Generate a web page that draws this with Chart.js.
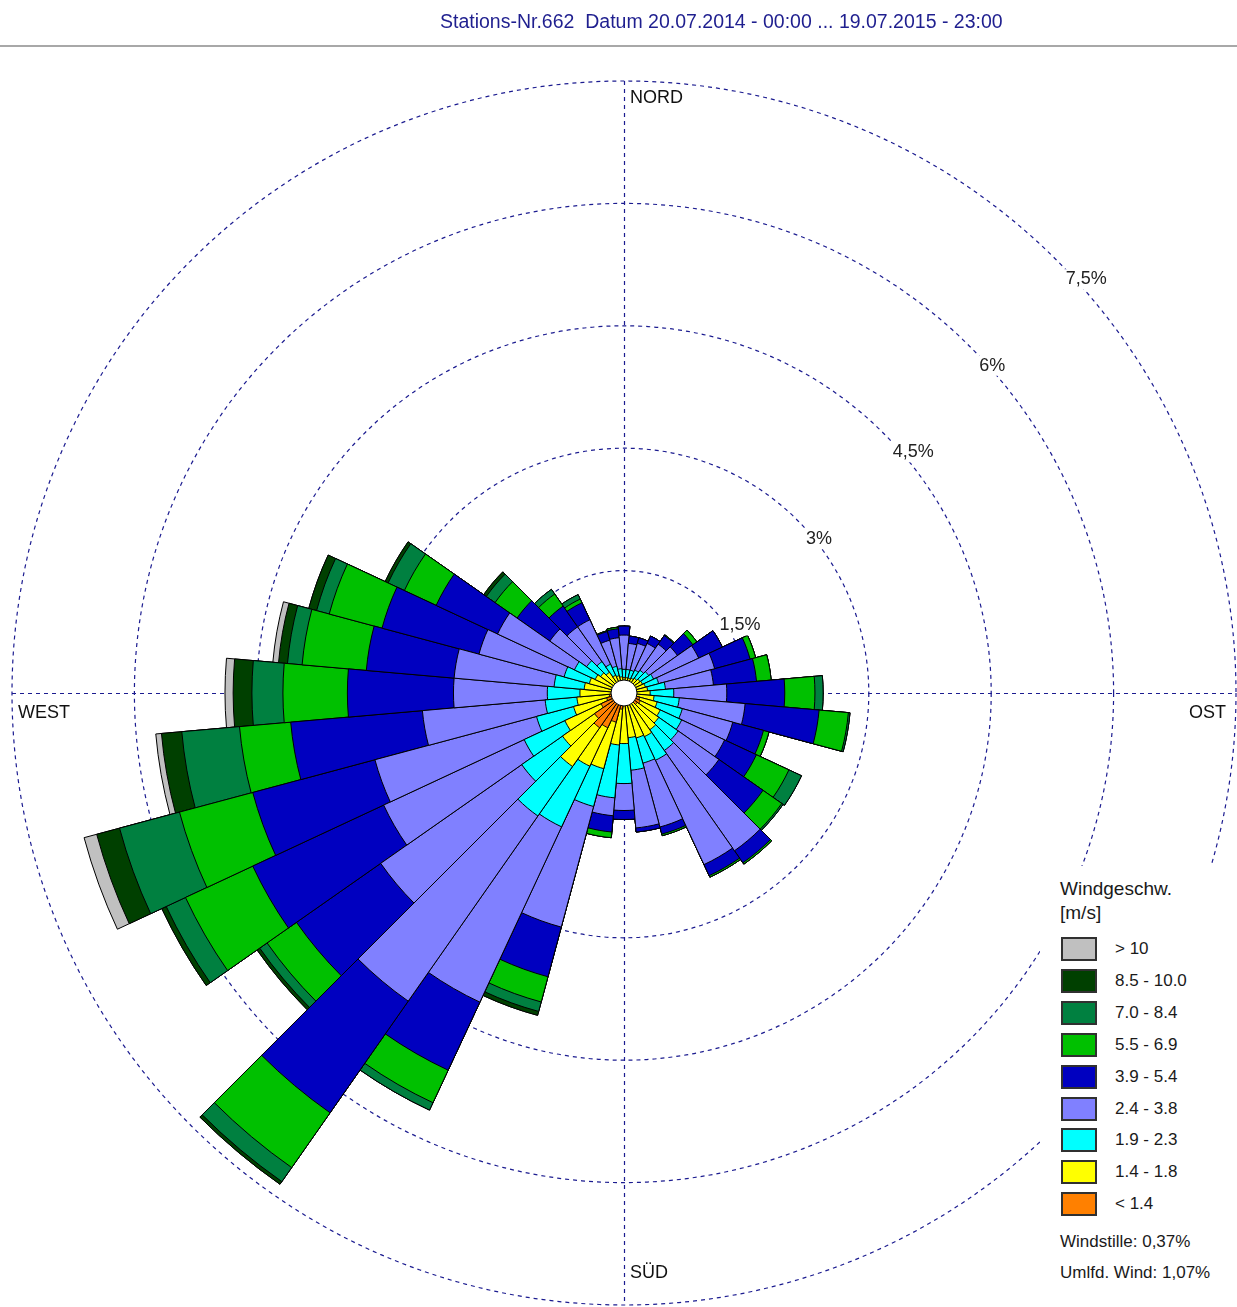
<!DOCTYPE html>
<html>
<head>
<meta charset="utf-8">
<script src="https://cdn.jsdelivr.net/npm/chart.js@4.4.0/dist/chart.umd.min.js"></script>
<style>
  html, body { margin: 0; padding: 0; background: #fff; }
  body { width: 1237px; height: 1307px; position: relative; overflow: hidden; font-family: "Liberation Sans", Arial, sans-serif; }
  #wrap { position: absolute; left: 0; top: 0; width: 1237px; height: 1307px; }
  #title { position: absolute; left: 440px; top: 9px; font-size: 19.5px; line-height: 24px; color: #1f1f8f; white-space: nowrap; }
  #rule { position: absolute; left: 0; top: 45px; width: 1237px; border-top: 2px solid #a8a8a8; }
  #legend { position: absolute; left: 1040px; top: 866px; width: 197px; height: 441px; background: #fff; color: #1a1a1a; }
  #legend div { position: absolute; white-space: nowrap; }
  .head { left: 20px; font-size: 19px; line-height: 22px; }
  .box { left: 21px; width: 36px; height: 24px; box-sizing: border-box; border: 2px solid #303030; }
  .lab { left: 75px; font-size: 17px; line-height: 24px; }
  .note { left: 20px; font-size: 17px; line-height: 20px; }
</style>
</head>
<body>
<div id="wrap"><canvas id="rose"></canvas></div>
<div id="title">Stations-Nr.662&nbsp;&nbsp;Datum 20.07.2014 - 00:00 ... 19.07.2015 - 23:00</div>
<div id="rule"></div>
<div id="legend"></div>
<script>
// sector centres, degrees clockwise from north
const directions = ['0', '10', '20', '30', '40', '50', '60', '70', '80', '90', '100', '110',
  '120', '130', '140', '150', '160', '170', '180', '190', '200', '210', '220', '230',
  '240', '250', '260', '270', '280', '290', '300', '310', '320', '330', '340', '350'];

// frequency in % per speed class
const spdLt14 = [0.07, 0.07, 0.07, 0.07, 0.09, 0.09, 0.10, 0.10, 0.11, 0.12, 0.14, 0.20,
  0.22, 0.20, 0.14, 0.12, 0.12, 0.12, 0.12, 0.20, 0.37, 0.47, 0.52, 0.44,
  0.31, 0.22, 0.18, 0.12, 0.11, 0.10, 0.10, 0.09, 0.09, 0.07, 0.07, 0.07];
const spd14 = [0.12, 0.12, 0.12, 0.13, 0.13, 0.15, 0.15, 0.17, 0.18, 0.20, 0.23, 0.22,
  0.27, 0.32, 0.41, 0.47, 0.45, 0.43, 0.50, 0.44, 0.59, 0.52, 0.58, 0.48,
  0.49, 0.42, 0.40, 0.42, 0.38, 0.34, 0.29, 0.26, 0.22, 0.17, 0.15, 0.13];
const spd19 = [0.10, 0.10, 0.10, 0.11, 0.12, 0.13, 0.15, 0.17, 0.22, 0.29, 0.31, 0.32,
  0.29, 0.29, 0.31, 0.32, 0.32, 0.40, 0.49, 0.65, 0.48, 0.82, 0.74, 0.61,
  0.55, 0.47, 0.39, 0.40, 0.37, 0.32, 0.28, 0.21, 0.16, 0.15, 0.12, 0.10];
const spd24 = [0.42, 0.32, 0.34, 0.36, 0.39, 0.43, 0.61, 0.71, 0.59, 0.65, 0.81, 0.64,
  0.58, 0.61, 1.50, 1.41, 0.81, 0.71, 0.33, 0.22, 1.53, 2.37, 2.77, 2.11,
  1.90, 2.05, 1.51, 1.15, 1.23, 1.08, 1.04, 0.55, 0.52, 0.60, 0.33, 0.38];
const spd39 = [0.11, 0.09, 0.07, 0.10, 0.13, 0.23, 0.32, 0.45, 0.53, 0.71, 0.91, 0.39,
  0.43, 0.66, 0.18, 0.15, 0.09, 0.05, 0.11, 0.20, 0.63, 0.92, 1.67, 1.26,
  1.77, 1.55, 1.62, 1.30, 1.08, 1.23, 0.83, 0.49, 0.31, 0.23, 0.11, 0.11];
const spd55 = [0, 0, 0, 0, 0.01, 0.06, 0, 0.07, 0.18, 0.37, 0.36, 0.07,
  0.44, 0.28, 0.02, 0.02, 0.02, 0, 0, 0.07, 0.32, 0.44, 0.82, 0.44,
  0.91, 0.93, 0.63, 0.79, 0.79, 0.67, 0.43, 0.33, 0.18, 0.05, 0.01, 0.02];
const spd70 = [0, 0, 0, 0, 0, 0, 0, 0, 0, 0.10, 0.02, 0,
  0.17, 0.02, 0, 0, 0, 0, 0, 0, 0.12, 0.10, 0.21, 0.11,
  0.26, 0.76, 0.71, 0.38, 0.18, 0.16, 0.22, 0.13, 0.07, 0.06, 0, 0];
const spd85 = [0, 0, 0, 0, 0, 0, 0, 0, 0, 0, 0, 0,
  0, 0, 0, 0, 0, 0, 0, 0, 0.05, 0, 0.04, 0.04,
  0.06, 0.29, 0.25, 0.23, 0.11, 0.10, 0.04, 0.04, 0, 0, 0, 0];
const spdGt10 = [0, 0, 0, 0, 0, 0, 0, 0, 0, 0, 0, 0,
  0, 0, 0, 0, 0, 0, 0, 0, 0, 0, 0, 0,
  0, 0.16, 0.07, 0.10, 0.07, 0, 0, 0, 0, 0, 0, 0];

// slowest class first
const classSeries = [spdLt14, spd14, spd19, spd24, spd39, spd55, spd70, spd85, spdGt10];
const classLabels = ['< 1.4', '1.4 - 1.8', '1.9 - 2.3', '2.4 - 3.8', '3.9 - 5.4', '5.5 - 6.9', '7.0 - 8.4', '8.5 - 10.0', '> 10'];
const classColors = ['#ff8000', '#ffff00', '#00ffff', '#8080ff', '#0000c0', '#00c000', '#008040', '#004000', '#c0c0c0'];

const ringTicks = [1.5, 3, 4.5, 6, 7.5];
const calmText = 'Windstille: 0,37%';
const varText = 'Umlfd. Wind: 1,07%';

const gridColor = '#1c1c90';
const font = '"Liberation Sans", Arial, sans-serif';

// stacked rose: each dataset holds the running total, smallest drawn on top
let running = directions.map(() => 0);
const datasets = classSeries.map((series, k) => {
    running = running.map((v, i) => v + series[i]);
    return {
        label: classLabels[k],
        data: running.slice(),
        backgroundColor: classColors[k],
        borderColor: '#000',
        borderWidth: 1,
        order: k,
    };
});

const roseExtras = {
    id: 'roseExtras',
    beforeDatasetsDraw(chart) {
        const s = chart.scales.r;
        const ctx = chart.ctx;
        const cx = s.xCenter, cy = s.yCenter, R = s.drawingArea;
        ctx.save();
        ctx.strokeStyle = gridColor;
        ctx.lineWidth = 1.2;
        ctx.setLineDash([4, 4]);
        ctx.beginPath();
        ctx.moveTo(cx + 0.5, cy - R);
        ctx.lineTo(cx + 0.5, cy + R);
        ctx.moveTo(cx - R, cy + 0.5);
        ctx.lineTo(cx + R, cy + 0.5);
        ctx.stroke();
        ctx.restore();
    },
    afterDatasetsDraw(chart) {
        const s = chart.scales.r;
        const ctx = chart.ctx;
        const cx = s.xCenter, cy = s.yCenter, R = s.drawingArea;
        ctx.save();
        // calm circle
        ctx.beginPath();
        ctx.arc(cx, cy, 13, 0, Math.PI * 2);
        ctx.fillStyle = '#fff';
        ctx.fill();
        ctx.strokeStyle = '#000';
        ctx.lineWidth = 1;
        ctx.stroke();

        // ring percentages along the NE diagonal
        ctx.font = '18px ' + font;
        ctx.textAlign = 'left';
        ctx.textBaseline = 'top';
        ringTicks.forEach(v => {
            const d = s.getDistanceFromCenterForValue(v) * Math.SQRT1_2;
            const txt = String(v).replace('.', ',') + '%';
            const x = cx + d + 9, y = cy - d + 10;
            const w = ctx.measureText(txt).width;
            ctx.fillStyle = '#fff';
            ctx.fillRect(x - 1, y - 1, w + 2, 20);
            ctx.fillStyle = '#222';
            ctx.fillText(txt, x, y);
        });

        // compass points
        ctx.textBaseline = 'middle';
        ctx.fillStyle = '#111';
        ctx.fillText('NORD', cx + 6, cy - R + 17);
        ctx.fillText('WEST', cx - R + 6, cy + 20);
        ctx.fillText('SÜD', cx + 6, cy + R - 32);
        ctx.textAlign = 'right';
        ctx.fillText('OST', cx + R - 10, cy + 20);
        ctx.restore();
    }
};

new Chart(document.getElementById('rose'), {
    type: 'polarArea',
    data: { labels: directions, datasets },
    options: {
        responsive: true,
        maintainAspectRatio: false,
        animation: false,
        events: [],
        layout: { padding: { left: 12, right: 1, top: 81, bottom: 2 } },
        plugins: {
            legend: { display: false },
            tooltip: { enabled: false },
        },
        scales: {
            r: {
                min: 0,
                max: ringTicks[ringTicks.length - 1],
                startAngle: -5,
                ticks: { display: false, stepSize: ringTicks[0] },
                grid: { circular: true, color: gridColor, lineWidth: 1.2 },
                border: { dash: [4, 4] },
                angleLines: { display: false },
                pointLabels: { display: false },
            },
        },
    },
    plugins: [roseExtras],
});

// legend, fastest class on top
const legend = document.getElementById('legend');
const add = (cls, text, css) => {
    const el = document.createElement('div');
    el.className = cls;
    if (text) el.textContent = text;
    Object.assign(el.style, css);
    legend.appendChild(el);
};
add('head', 'Windgeschw.', { top: '12px' });
add('head', '[m/s]', { top: '36px' });
classLabels.slice().reverse().forEach((label, k) => {
    const top = 71 + k * 31.9;
    add('box', '', { top: top + 'px', background: classColors[classColors.length - 1 - k] });
    add('lab', label, { top: top + 'px' });
});
add('note', calmText, { top: '366px' });
add('note', varText, { top: '397px' });
</script>
</body>
</html>
